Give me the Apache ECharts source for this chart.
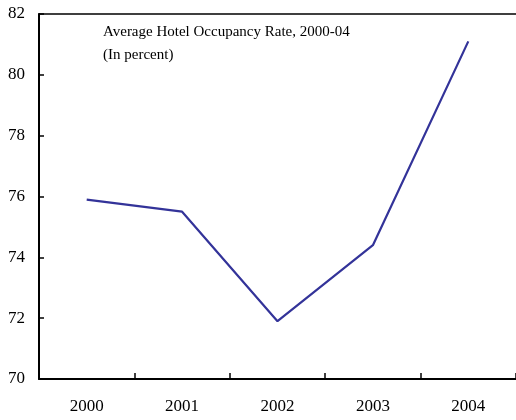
<!DOCTYPE html>
<html>
<head>
<meta charset="utf-8">
<script src="https://cdn.jsdelivr.net/npm/echarts@6/dist/echarts.min.js"></script>
<style>
  html, body { margin: 0; padding: 0; background: #fff; }
  #chart { width: 516px; height: 420px; }
</style>
</head>
<body>
<div id="chart"></div>
<script>
// 年份与入住率
const years = ['2000', '2001', '2002', '2003', '2004']
const occupancy = [75.9, 75.5, 71.9, 74.4, 81.1]
const titleLines = ['Average Hotel Occupancy Rate, 2000-04', '(In percent)']

const font = '"Liberation Serif", "DejaVu Serif", serif'
const chart = echarts.init(document.getElementById('chart'))

chart.setOption({
  animation: false,
  title: {
    text: titleLines.join('\n'),
    left: 98,
    top: 16,
    textStyle: {fontFamily: font, fontSize: 15, fontWeight: 'normal', color: '#000', lineHeight: 23}
  },
  grid: {left: 39, right: -1, top: 14, bottom: 41},
  xAxis: [{
    type: 'category',
    data: years,
    boundaryGap: true,
    axisLine: {lineStyle: {color: '#000', width: 2}},
    axisTick: {show: true, inside: true, length: 6, interval: 0, lineStyle: {color: '#000', width: 1.5}},
    axisLabel: {fontFamily: font, fontSize: 17, color: '#000', margin: 19}
  }, {
    type: 'category',
    data: years,
    position: 'top',
    axisLine: {lineStyle: {color: '#000', width: 1.5}},
    axisTick: {show: false},
    axisLabel: {show: false}
  }],
  yAxis: {
    type: 'value',
    min: 70,
    max: 82,
    interval: 2,
    axisLine: {show: true, lineStyle: {color: '#000', width: 2}},
    axisTick: {show: true, inside: true, length: 5, lineStyle: {color: '#000', width: 1.5}},
    splitLine: {show: false},
    axisLabel: {fontFamily: font, fontSize: 17, color: '#000', margin: 14}
  },
  series: [{
    type: 'line',
    data: occupancy,
    symbol: 'none',
    lineStyle: {color: '#333399', width: 2.2}
  }]
})
</script>
</body>
</html>
